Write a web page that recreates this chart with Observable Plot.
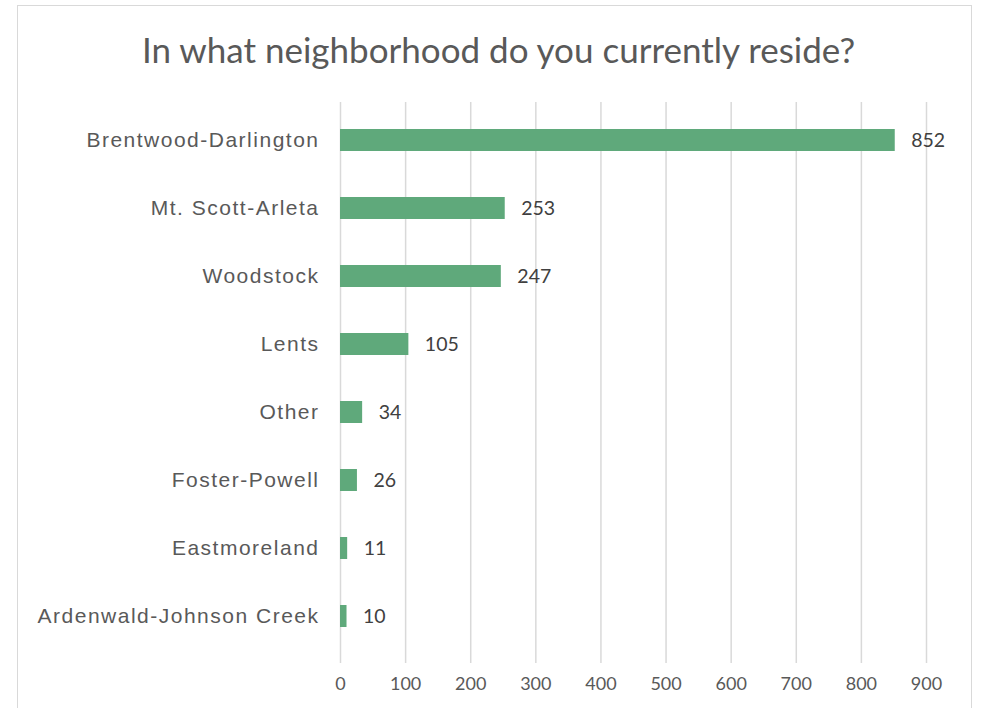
<!DOCTYPE html>
<html>
<head>
<meta charset="utf-8">
<script src="https://cdn.jsdelivr.net/npm/d3@7"></script>
<script src="https://cdn.jsdelivr.net/npm/@observablehq/plot@0.6"></script>
<style>
  html, body { margin: 0; padding: 0; background: #fff; }
  #frame { position: absolute; left: 17px; top: 5px; width: 955px; height: 760px; border: 1.5px solid #d9d9d9; box-sizing: border-box; }
  #title { position: absolute; left: 0; top: 0; width: 981px; height: 90px; text-align: center; font-family: Lato, sans-serif; font-size: 35px; color: #595959; line-height: 1; padding-top: 32px; padding-left: 16px; box-sizing: border-box; }
  #chart { position: absolute; left: 0; top: 90px; }
  #chart g[aria-label="y-axis tick label"] text { letter-spacing: 1.5px; }
</style>
</head>
<body>
<div id="frame"></div>
<div id="title">In what neighborhood do you currently reside?</div>
<div id="chart"></div>
<script>
const neighborhoods = ["Brentwood-Darlington", "Mt. Scott-Arleta", "Woodstock", "Lents", "Other", "Foster-Powell", "Eastmoreland", "Ardenwald-Johnson Creek"];
const counts = [852, 253, 247, 105, 34, 26, 11, 10];
const xTicks = [0, 100, 200, 300, 400, 500, 600, 700, 800, 900];

const data = neighborhoods.map((n, i) => ({name: n, value: counts[i]}));

const chart = Plot.plot({
  width: 981,
  height: 618,
  marginLeft: 340,
  marginRight: 55,
  marginTop: 14,
  marginBottom: 57,
  style: {fontFamily: "'Liberation Sans', Arial, sans-serif", color: "#595959", background: "transparent"},
  x: {domain: [0, 900], ticks: xTicks, label: null},
  y: {domain: neighborhoods, label: null, paddingInner: 0.68, paddingOuter: 0.34},
  marks: [
    Plot.ruleX(xTicks, {stroke: "#d9d9d9", strokeWidth: 1.5, insetTop: -2, insetBottom: -12}),
    Plot.barX(data, {x: "value", y: "name", fill: "#5fa97b"}),
    Plot.text(data, {x: "value", y: "name", text: d => String(d.value), textAnchor: "start", dx: 16, fontSize: 19.5, fill: "#404040", fontFamily: "Lato, sans-serif"}),
    Plot.axisY({tickSize: 0, tickPadding: 21, fontSize: 21, fill: "#595959"}),
    Plot.axisX({ticks: xTicks, tickSize: 0, tickPadding: 26, fontSize: 18, fill: "#595959", fontFamily: "Lato, sans-serif"})
  ]
});
document.getElementById("chart").appendChild(chart);
</script>
</body>
</html>
